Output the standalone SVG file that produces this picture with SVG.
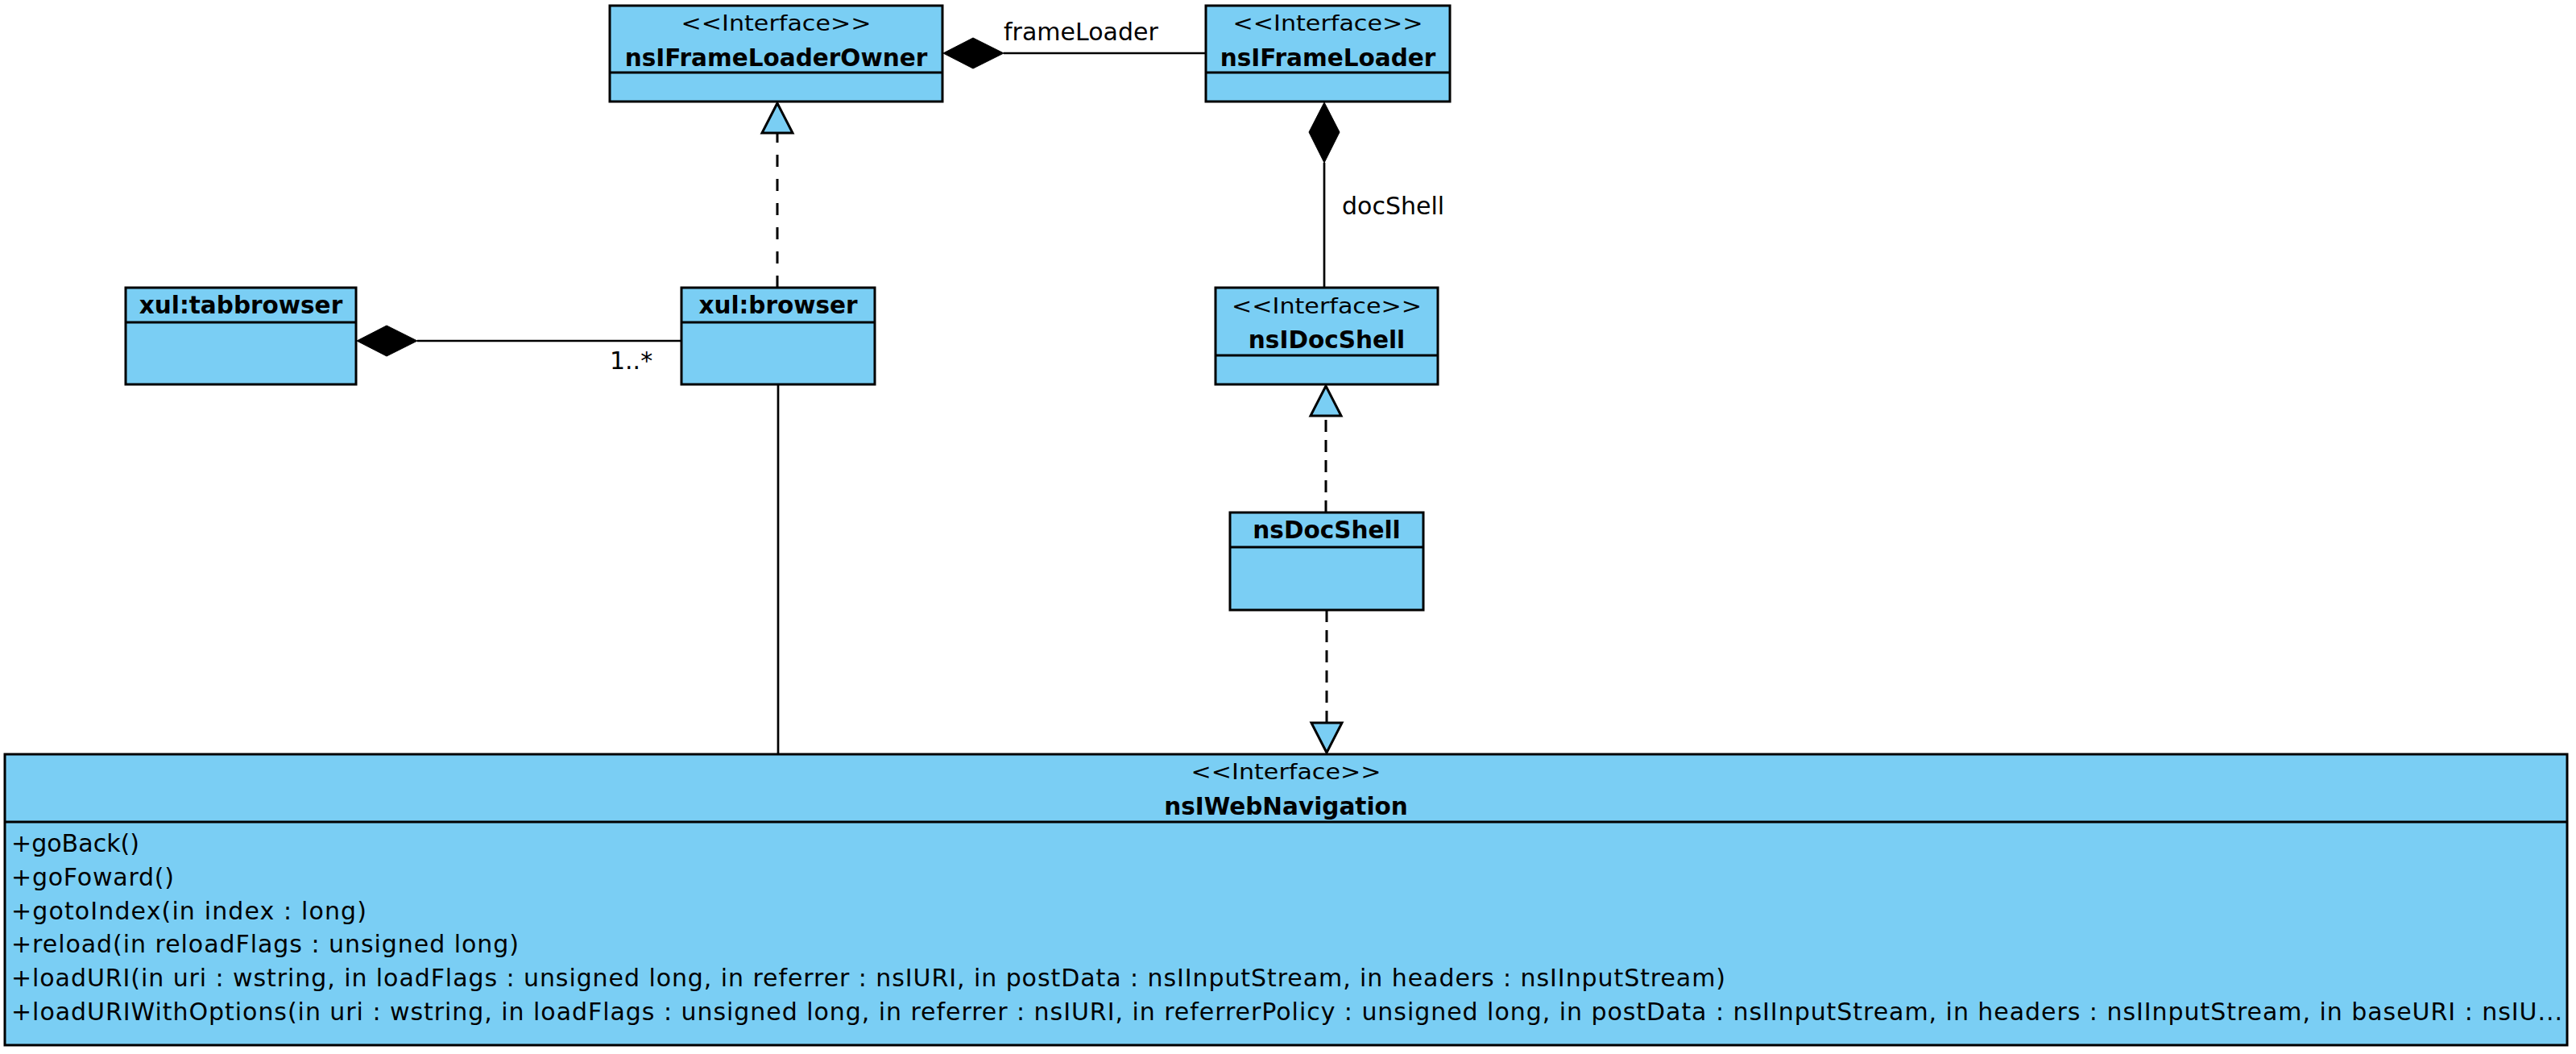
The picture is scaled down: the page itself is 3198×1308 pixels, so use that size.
<svg xmlns="http://www.w3.org/2000/svg" width="3198" height="1308" viewBox="0 0 3198 1308">
<style>
.box{fill:#7ACEF4;stroke:#000;stroke-width:3}
.div{stroke:#000;stroke-width:3}
.ln{stroke:#000;stroke-width:2.7;fill:none}
.dash1{stroke:#000;stroke-width:3;fill:none;stroke-dasharray:15 15}
.dash2{stroke:#000;stroke-width:3;fill:none;stroke-dasharray:15 10}
.dia{fill:#000;stroke:#000;stroke-width:1}
.tri{fill:#7ACEF4;stroke:#000;stroke-width:3;stroke-linejoin:miter}
.st{font-family:"DejaVu Sans","Liberation Sans",sans-serif;font-size:27px;text-anchor:middle;fill:#000}
.ti{font-family:"DejaVu Sans","Liberation Sans",sans-serif;font-size:29.5px;font-weight:bold;text-anchor:middle;fill:#000}
.lb{font-family:"DejaVu Sans","Liberation Sans",sans-serif;font-size:30px;fill:#000}
.me{font-family:"DejaVu Sans","Liberation Sans",sans-serif;font-size:30px;fill:#000}
</style>
<rect width="3198" height="1308" fill="#fff"/>
<g id="connectors">
  <line class="ln" x1="1246" y1="66" x2="1497" y2="66"/>
  <polygon class="dia" points="1171,66 1208,47 1246,66 1208,85"/>
  <text class="lb" x="1246" y="50">frameLoader</text>
  <line class="ln" x1="1644" y1="202" x2="1644" y2="357"/>
  <polygon class="dia" points="1644,127 1663,164 1644,202 1625,164"/>
  <text class="lb" x="1666" y="266">docShell</text>
  <line class="ln" x1="518" y1="423" x2="846" y2="423"/>
  <polygon class="dia" points="443,423 480,404 518,423 480,442"/>
  <text class="lb" x="757" y="458">1..*</text>
  <line class="dash1" x1="965" y1="357" x2="965" y2="165"/>
  <polygon class="tri" points="965,128 946,165 984,165"/>
  <line class="dash2" x1="1646" y1="636" x2="1646" y2="516"/>
  <polygon class="tri" points="1646,479 1627,516 1665,516"/>
  <line class="dash2" x1="1647" y1="757" x2="1647" y2="897"/>
  <polygon class="tri" points="1647,934 1628,897 1666,897"/>
  <line class="ln" x1="966" y1="477" x2="966" y2="936"/>
</g>
<g id="nsIFrameLoaderOwner">
  <rect class="box" x="757" y="7" width="413" height="119"/>
  <line class="div" x1="757" y1="90" x2="1170" y2="90"/>
  <text class="st" x="963.5" y="38" textLength="236" lengthAdjust="spacingAndGlyphs">&lt;&lt;Interface&gt;&gt;</text>
  <text class="ti" x="963.5" y="82">nsIFrameLoaderOwner</text>
</g>
<g id="nsIFrameLoader">
  <rect class="box" x="1497" y="7" width="303" height="119"/>
  <line class="div" x1="1497" y1="90" x2="1800" y2="90"/>
  <text class="st" x="1648.5" y="38" textLength="236" lengthAdjust="spacingAndGlyphs">&lt;&lt;Interface&gt;&gt;</text>
  <text class="ti" x="1648.5" y="82">nsIFrameLoader</text>
</g>
<g id="xul_tabbrowser">
  <rect class="box" x="156" y="357" width="286" height="120"/>
  <line class="div" x1="156" y1="400" x2="442" y2="400"/>
  <text class="ti" x="299" y="389">xul:tabbrowser</text>
</g>
<g id="xul_browser">
  <rect class="box" x="846" y="357" width="240" height="120"/>
  <line class="div" x1="846" y1="400" x2="1086" y2="400"/>
  <text class="ti" x="966" y="389">xul:browser</text>
</g>
<g id="nsIDocShell">
  <rect class="box" x="1509" y="357" width="276" height="120"/>
  <line class="div" x1="1509" y1="441" x2="1785" y2="441"/>
  <text class="st" x="1647" y="389" textLength="236" lengthAdjust="spacingAndGlyphs">&lt;&lt;Interface&gt;&gt;</text>
  <text class="ti" x="1647" y="432">nsIDocShell</text>
</g>
<g id="nsDocShell">
  <rect class="box" x="1527" y="636" width="240" height="121"/>
  <line class="div" x1="1527" y1="679" x2="1767" y2="679"/>
  <text class="ti" x="1647" y="668">nsDocShell</text>
</g>
<g id="nsIWebNavigation">
  <rect class="box" x="6" y="936" width="3181" height="361"/>
  <line class="div" x1="6" y1="1020" x2="3187" y2="1020"/>
  <text class="st" x="1596.5" y="967" textLength="236" lengthAdjust="spacingAndGlyphs">&lt;&lt;Interface&gt;&gt;</text>
  <text class="ti" x="1596.5" y="1011">nsIWebNavigation</text>
  <text class="me" x="14" y="1057" textLength="159">+goBack()</text>
  <text class="me" x="14" y="1099" textLength="202">+goFoward()</text>
  <text class="me" x="14" y="1141" textLength="441">+gotoIndex(in index : long)</text>
  <text class="me" x="14" y="1182" textLength="630">+reload(in reloadFlags : unsigned long)</text>
  <text class="me" x="14" y="1224" textLength="2128">+loadURI(in uri : wstring, in loadFlags : unsigned long, in referrer : nsIURI, in postData : nsIInputStream, in headers : nsIInputStream)</text>
  <text class="me" x="14" y="1266" textLength="3167">+loadURIWithOptions(in uri : wstring, in loadFlags : unsigned long, in referrer : nsIURI, in referrerPolicy : unsigned long, in postData : nsIInputStream, in headers : nsIInputStream, in baseURI : nsIU...</text>
</g>
</svg>
